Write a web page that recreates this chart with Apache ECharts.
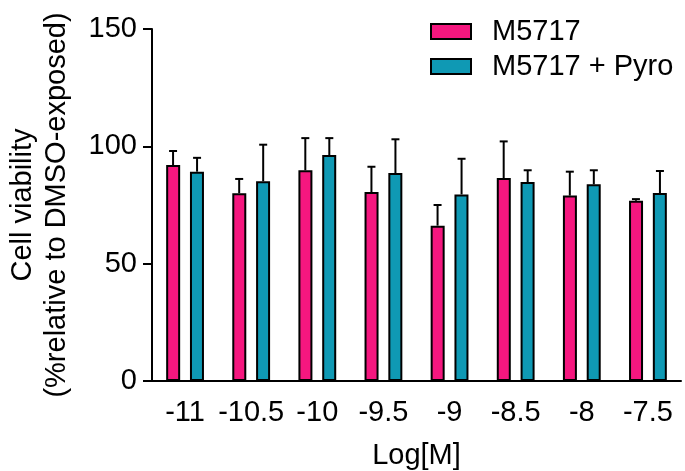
<!DOCTYPE html>
<html>
<head>
<meta charset="utf-8">
<script src="https://cdn.jsdelivr.net/npm/echarts@6/dist/echarts.min.js"></script>
<style>
  html, body { margin: 0; padding: 0; background: #fff; }
  #main { width: 685px; height: 471px; }
</style>
</head>
<body>
<div id="main"></div>
<script>
// doses, Log[M]
var categories = ['-11', '-10.5', '-10', '-9.5', '-9', '-8.5', '-8', '-7.5'];
// M5717 alone: mean and upper SD
var m5717 = [92.0, 80.0, 89.8, 80.5, 66.2, 86.5, 79.0, 76.8];
var m5717Err = [6.0, 6.1, 13.7, 10.8, 8.8, 15.6, 10.2, 0.7];
// M5717 + Pyro
var pyro = [89.2, 85.1, 96.3, 88.6, 79.5, 84.8, 83.8, 80.1];
var pyroErr = [5.9, 15.6, 7.2, 14.4, 15.2, 5.0, 6.0, 9.4];
var yTicks = [0, 50, 100, 150];

var PINK = '#F5177F';
var TEAL = '#0F99B4';
var FONT = 'Liberation Sans, Arial, sans-serif';

var chart = echarts.init(document.getElementById('main'));

// error bar (up only) drawn next to its bar, shift in px
function errRender(shift) {
  return function (params, api) {
    var idx = api.value(0);
    var top = api.coord([idx, api.value(1) + api.value(2)]);
    var base = api.coord([idx, api.value(1)]);
    var x = top[0] + shift;
    var style = { stroke: '#000', lineWidth: 2 };
    return {
      type: 'group',
      children: [
        { type: 'line', shape: { x1: x, y1: base[1], x2: x, y2: top[1] }, style: style },
        { type: 'line', shape: { x1: x - 4, y1: top[1], x2: x + 4, y2: top[1] }, style: style }
      ]
    };
  };
}

function errData(vals, errs) {
  return vals.map(function (v, i) { return [i, v, errs[i]]; });
}

var option = {
  animation: false,
  textStyle: { fontFamily: FONT },
  grid: { left: 152, right: 4, top: 29, bottom: 90, outerBoundsMode: 'none', containLabel: false },
  legend: {
    orient: 'vertical',
    left: 425,
    top: 12,
    itemWidth: 40,
    itemHeight: 15,
    itemGap: 6,
    icon: 'rect',
    textStyle: { fontSize: 29, color: '#000', fontFamily: FONT, padding: [0, 0, 0, 16] },
    data: ['M5717', 'M5717 + Pyro']
  },
  xAxis: {
    type: 'category',
    data: categories,
    name: 'Log[M]',
    nameLocation: 'middle',
    nameGap: 60,
    nameTextStyle: { fontSize: 29, color: '#000' },
    axisLine: { lineStyle: { color: '#000', width: 2 } },
    axisTick: { alignWithLabel: true, length: 9, lineStyle: { color: '#000', width: 2 } },
    axisLabel: { fontSize: 29, color: '#000', margin: 17, interval: 0, hideOverlap: false }
  },
  yAxis: {
    type: 'value',
    min: yTicks[0],
    max: yTicks[yTicks.length - 1],
    interval: 50,
    name: 'Cell viability\n(%relative to DMSO-exposed)',
    nameLocation: 'middle',
    nameGap: 78,
    nameTextStyle: { fontSize: 29, color: '#000', lineHeight: 34 },
    splitLine: { show: false },
    axisLine: { show: true, lineStyle: { color: '#000', width: 2 } },
    axisTick: { show: true, length: 9, lineStyle: { color: '#000', width: 2 } },
    axisLabel: { fontSize: 29, color: '#000', margin: 15 }
  },
  series: [
    {
      name: 'M5717',
      type: 'bar',
      data: m5717,
      barWidth: 14,
      barGap: '70%',
      itemStyle: { color: PINK, borderColor: '#000', borderWidth: 2 }
    },
    {
      name: 'M5717 + Pyro',
      type: 'bar',
      data: pyro,
      barWidth: 14,
      barGap: '70%',
      itemStyle: { color: TEAL, borderColor: '#000', borderWidth: 2 }
    },
    {
      type: 'custom',
      renderItem: errRender(-12),
      data: errData(m5717, m5717Err),
      encode: { x: 0, y: 1 },
      z: 3,
      silent: true
    },
    {
      type: 'custom',
      renderItem: errRender(12),
      data: errData(pyro, pyroErr),
      encode: { x: 0, y: 1 },
      z: 3,
      silent: true
    }
  ]
};

chart.setOption(option);
</script>
</body>
</html>
